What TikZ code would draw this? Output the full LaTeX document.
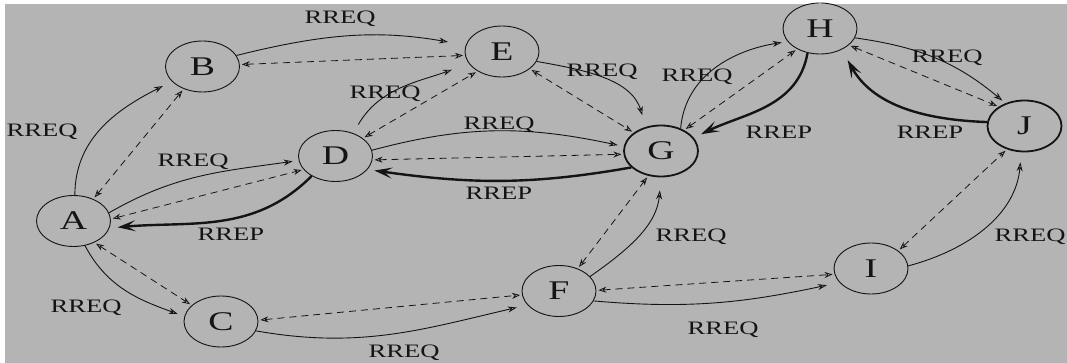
\documentclass[tikz,border=0pt]{standalone}
\usepackage{fontspec}
\setmainfont{Liberation Serif}[FakeStretch=1.4]
\usetikzlibrary{shapes.geometric,arrows.meta}
\definecolor{bggray}{RGB}{180,180,180}
\definecolor{ink}{RGB}{20,20,20}

\begin{document}
\begin{tikzpicture}[x=1pt,y=1pt,
  station/.style={draw=ink, ellipse, line width=0.9pt, minimum width=74pt,
    minimum height=51pt, inner sep=0pt, font=\fontsize{27}{27}\selectfont, text=ink},
  hub/.style={station, line width=1.8pt},
  req/.style={draw=ink, line width=0.9pt, -{Stealth[open,length=9pt,width=6pt]}},
  bidir/.style={draw=ink, line width=0.8pt, dash pattern=on 7pt off 5pt,
    {Stealth[open,length=8pt,width=6pt]}-{Stealth[open,length=8pt,width=6pt]},
    shorten <=2pt, shorten >=2pt},
  rep/.style={draw=ink, line width=2.4pt, -{Stealth[length=18pt,width=11pt,inset=8pt]}},
  lab/.style={font=\fontsize{19}{19}\selectfont, text=ink, inner sep=0pt},
]
% canvas
\useasboundingbox (0,0) rectangle (1067,-363);
\fill[white] (0,0) rectangle (1067,-363);
\fill[bggray] (5,-4) rectangle (1067,-363);

% stations
\node[station] (A) at (73.5,-221)  {A};
\node[station] (B) at (202.5,-66.5) {B};
\node[station] (C) at (221,-321.5)  {C};
\node[station] (D) at (335.5,-156)  {D};
\node[station] (E) at (502,-51.5)   {E};
\node[station] (F) at (559,-291)    {F};
\node[hub]     (G) at (661,-151)    {G};
\node[station] (H) at (820,-28.5)   {H};
\node[station] (I) at (871,-268.5)  {I};
\node[hub]     (J) at (1024.5,-126) {J};

% links around A
\draw[req, shorten >=10pt] (A.87) to[out=90,in=207] (B.206);
\draw[bidir] (A.48) -- (B.230);
\draw[req, shorten >=6pt] (A.13) to[out=30,in=188] (D.187);
\draw[bidir] (A.3) -- (D.203);
\draw[rep, shorten >=8pt] (D.220) to[out=225,in=5] (A.349);
\draw[req, shorten >=7pt] (A.295) to[out=-62,in=160] (C.172);
\draw[bidir] (A.314) -- (C.151);

% links from B, C, D
\draw[req, shorten >=11pt] (C.-15) to[out=-10,in=193] (F.204);
\draw[bidir] (C.2) -- (F.186);
\draw[req, shorten >=18pt] (B.18) to[out=14,in=170] (E.170);
\draw[bidir] (B.3) -- (E.186);
\draw[req, shorten <=10pt, shorten >=18pt] (D.52) to[out=60,in=200] (E.200);
\draw[bidir] (D.33) -- (E.219);
\draw[req, shorten >=6pt] (D.9) to[out=15,in=168] (G.173);
\draw[bidir] (D.-6) -- (G.185);
\draw[rep, shorten >=7pt] (G.209) to[out=190,in=-8] (D.-23);

% links into G
\draw[req, shorten >=12pt] (E.-16) to[out=-10,in=107] (G.122);
\draw[bidir] (E.-32) -- (G.146);
\draw[req, shorten >=13pt] (F.25) to[out=35,in=-95] (G.-90);
\draw[bidir] (F.50) -- (G.243);

% links around H and J
\draw[req, shorten >=6pt] (G.49) to[out=85,in=189] (H.202);
\draw[bidir] (G.42) -- (H.222);
\draw[rep, shorten >=8pt] (H.243) to[out=-100,in=26] (G.22);
\draw[req, shorten >=4pt] (H.-15) to[out=-8,in=140] (J.130);
\draw[bidir] (H.-30) -- (J.143);
\draw[rep, shorten >=12pt] (J.174) to[out=178,in=-61] (H.-44);

% links from F and I
\draw[req, shorten >=13pt] (F.-16) to[out=-5,in=192] (I.204);
\draw[bidir] (F.1) -- (I.189);
\draw[req, shorten >=10pt] (I.4) to[out=15,in=-95] (J.263);
\draw[bidir] (I.33) -- (J.233);

% message labels
\node[lab] (lab1)  at (42,-132)  {RREQ};
\node[lab] (lab2)  at (193,-162) {RREQ};
\node[lab] (lab3)  at (231,-234) {RREP};
\node[lab] (lab4)  at (86,-308)  {RREQ};
\node[lab] (lab5)  at (404,-353) {RREQ};
\node[lab] (lab6)  at (340,-19)  {RREQ};
\node[lab] (lab7)  at (385,-94)  {RREQ};
\node[lab] (lab8)  at (499,-125) {RREQ};
\node[lab] (lab9)  at (499,-193) {RREP};
\node[lab] (lab10) at (602,-72)  {RREQ};
\node[lab] (lab11) at (691,-237) {RREQ};
\node[lab] (lab12) at (697,-77)  {RREQ};
\node[lab] (lab13) at (779,-132) {RREP};
\node[lab] (lab14) at (947,-58)  {RREQ};
\node[lab] (lab15) at (930,-132) {RREP};
\node[lab] (lab16) at (723,-330) {RREQ};
\node[lab] (lab17) at (1030,-237) {RREQ};
\end{tikzpicture}
\end{document}
